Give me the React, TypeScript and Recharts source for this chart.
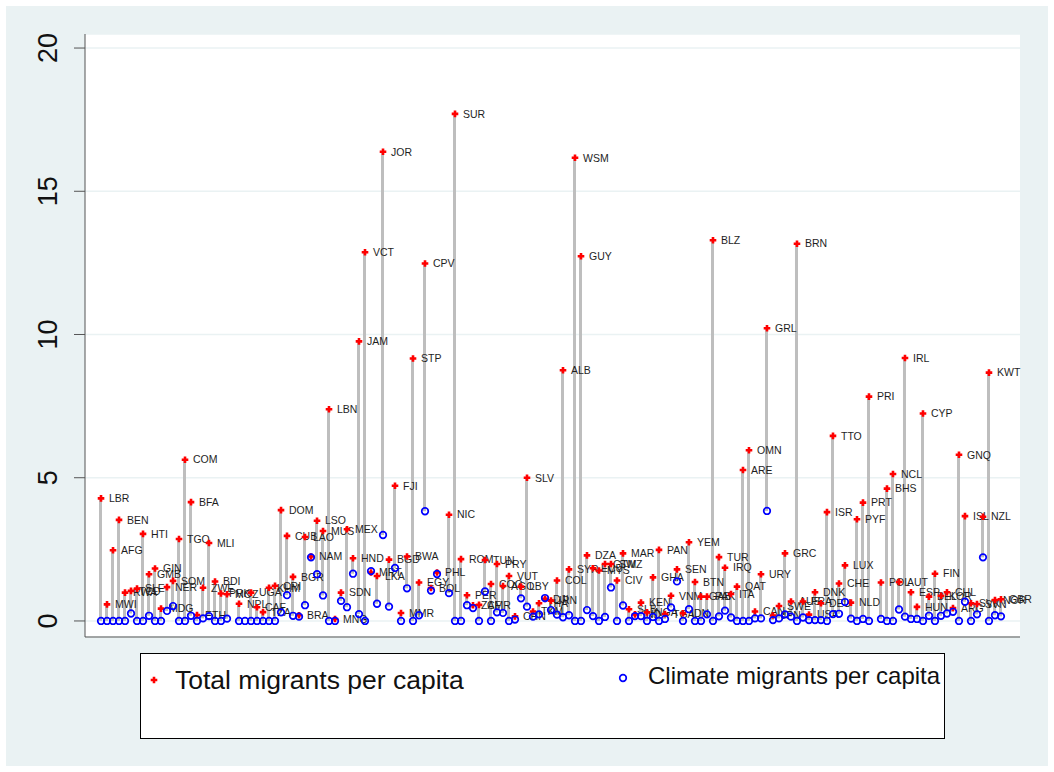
import { ComposedChart, Bar, Scatter, XAxis, YAxis, CartesianGrid } from "recharts";

// countries in rank order along the x axis (null = empty rank)
const countries: (string | null)[] = [
  "LBR", "MWI", "AFG", "BEN", "RWA", "TCD", "SLE", "HTI", "GMB", "GIN",
  "MDG", "NER", "SOM", "TGO", "COM", "BFA", "ETH", "ZWE", "MLI", "BDI",
  "PRK", "MOZ", null, "NPL", "", "UGA", "CAF", "TZA", "KHM", "CRI",
  "DOM", "CUB", "BGR", "BRA", "LAO", "NAM", "LSO", "MUS", "LBN", "MNG",
  "SDN", "MEX", "HND", "JAM", "VCT", "MRT", "LKA", "JOR", "BGD", "FJI",
  "MMR", "BWA", "STP", "EGY", "CPV", "BOL", "PHL", null, "NIC", "SUR",
  "ROM", "PER", "ZAF", "CMR", "TUN", "COG", "PRY", "AGO", "VUT", "CHN",
  "LBY", "SLV", "TKM", "THA", "DJI", "IRN", "COL", "ALB", "SYR", "WSM",
  "GUY", "DZA", "ECU", "MYS", "GTM", "SWZ", "CIV", "MAR", "SLB", "IND",
  "KEN", "NGA", "GHA", "PAN", "TGA", "VNM", "SEN", "IDN", "YEM", "BTN",
  "GAB", "PAK", "BLZ", "TUR", "IRQ", "ITA", "QAT", "ARE", "OMN", "CAN",
  "URY", "GRL", "JPN", "SWE", "GRC", "AUS", "BRN", "FRA", "USA", "DNK",
  "DEU", "ISR", "TTO", "CHE", "LUX", "NLD", "PYF", "PRT", "PRI", null,
  "POL", "BHS", "NCL", "AUT", "IRL", "ESP", "HUN", "CYP", "BEL", "FIN",
  "KOR", "CHL", "ARG", "GNQ", "ISL", "SVK", "SVN", "NZL", "KWT", "NOR",
  "GBR",
];

const totalPerCapita: (number | null)[] = [
  4.28, 0.58, 2.47, 3.53, 0.99, 1.05, 1.13, 3.04, 1.63, 1.83,
  0.43, 1.18, 1.4, 2.86, 5.63, 4.15, 0.21, 1.16, 2.72, 1.38,
  0.96, 0.93, null, 0.6, null, 0.99, 0.48, 0.31, 1.16, 1.23,
  3.87, 2.97, 1.54, 0.2, 2.93, 2.25, 3.5, 3.14, 7.39, 0.07,
  0.99, 3.2, 2.19, 9.76, 12.87, 1.69, 1.57, 16.38, 2.14, 4.72,
  0.28, 2.25, 9.16, 1.34, 12.48, 1.15, 1.69, null, 3.71, 17.7,
  2.16, 0.9, 0.55, 0.56, 2.13, 1.29, 1.99, 1.22, 1.57, 0.16,
  1.2, 5.0, 0.33, 0.62, 0.77, 0.71, 1.41, 8.75, 1.8, 16.17,
  12.73, 2.29, 1.84, 1.76, 1.99, 1.99, 1.41, 2.36, 0.41, 0.23,
  0.64, 0.3, 1.52, 2.48, 0.24, 0.88, 1.8, 0.27, 2.75, 1.36,
  0.85, 0.85, 13.29, 2.23, 1.86, 0.94, 1.2, 5.27, 5.96, 0.33,
  1.63, 10.22, 0.19, 0.52, 2.36, 0.68, 13.17, 0.68, 0.22, 1.0,
  0.62, 3.8, 6.46, 1.31, 1.94, 0.64, 3.55, 4.13, 7.83, null,
  1.34, 4.62, 5.13, 1.36, 9.18, 1.0, 0.49, 7.24, 0.85, 1.65,
  0.88, 1.0, 0.45, 5.8, 3.66, 0.62, 0.59, 3.64, 8.67, 0.73,
  0.76,
];

const climatePerCapita: (number | null)[] = [
  0, 0, 0, 0, 0, 0.26, 0, 0, 0.18, 0,
  0, 0.35, 0.52, 0, 0, 0.18, 0, 0.09, 0.17, 0,
  0, 0.08, null, 0, 0, 0, 0, 0, 0, 0,
  0.3, 0.9, 0.18, 0.15, 0.55, 2.22, 1.63, 0.89, 0, 0,
  0.7, 0.48, 1.65, 0.24, 0, 1.74, 0.6, 3.0, 0.5, 1.85,
  0, 1.14, 0, 0.2, 3.83, 1.06, 1.64, null, 0.97, 0,
  0, 0.55, 0.45, 0, 1.03, 0, 0.3, 0.28, 0, 0.05,
  0.79, 0.5, 0.15, 0.23, 0.8, 0.38, 0.22, 0.13, 0.2, 0,
  0, 0.38, 0.17, 0, 0.14, 1.17, 0, 0.54, 0, 0.17,
  0.17, 0, 0.14, 0, 0.07, 0.47, 1.38, 0, 0.41, 0,
  0, 0.23, 0, 0.16, 0.36, 0.12, 0, 0, 0, 0.09,
  0.09, 3.84, 0.03, 0.09, 0.23, 0.15, 0, 0.12, 0.03, 0.03,
  0.03, 0, 0.24, 0.25, 0.66, 0.08, 0, 0.07, 0, null,
  0.07, 0, 0, 0.4, 0.15, 0.07, 0.07, 0, 0.18, 0,
  0.18, 0.26, 0.32, 0, 0.67, 0, 0.23, 2.22, 0, 0.2,
  0.16,
];

const yTicks = [0, 5, 10, 15, 20];

const rows = countries
  .map((iso, rank) => {
    const total = totalPerCapita[rank];
    const climate = climatePerCapita[rank];
    return {
      rank,
      iso,
      total,
      climate,
      spike: total != null && climate != null ? [climate, total] : null,
    };
  })
  .filter((r) => r.iso !== null);

const font = "'Liberation Sans', Arial, sans-serif";

const TotalMark = (props: any) => {
  const { cx, cy, payload } = props;
  if (cx == null || cy == null || !isFinite(cy)) return null;
  return (
    <g>
      <path
        d={`M${cx - 3.3},${cy}H${cx + 3.3}M${cx},${cy - 3.3}V${cy + 3.3}`}
        stroke="#ff0000"
        strokeWidth={2.6}
      />
      <text x={cx + 8} y={cy} dy="0.36em" fontSize={10.5} fontFamily={font} fill="#1e1e1e">
        {payload.iso}
      </text>
    </g>
  );
};

const ClimateMark = (props: any) => {
  const { cx, cy } = props;
  if (cx == null || cy == null || !isFinite(cy)) return null;
  return <circle cx={cx} cy={cy} r={3.3} fill="none" stroke="#0000ff" strokeWidth={1.7} />;
};

const YTick = (props: any) => {
  const { y, payload } = props;
  return (
    <text
      x={47}
      y={y}
      transform={`rotate(-90, 47, ${y})`}
      textAnchor="middle"
      dy="0.36em"
      fontSize={27}
      fontFamily={font}
      fill="#111"
    >
      {payload.value}
    </text>
  );
};

const App = () => {
  return (
    <div style={{ position: "fixed", left: 0, top: 0, width: 1054, height: 772, background: "#fff", fontFamily: font }}>
      <div style={{ position: "absolute", left: 6, top: 6, width: 1042, height: 760, background: "#eaf2f3" }} />
      <div style={{ position: "absolute", left: 0, top: 0 }}>
        <ComposedChart width={1054} height={772} data={rows} margin={{ top: 34, right: 34, bottom: 134, left: 0 }}>
          <CartesianGrid vertical={false} fill="#ffffff" stroke="#eaf2f3" strokeWidth={1.6} />
          <XAxis
            type="number"
            dataKey="rank"
            domain={[-2.67, 153.17]}
            tick={false}
            tickLine={false}
            axisLine={{ stroke: "#555" }}
            height={1}
          />
          <YAxis
            type="number"
            domain={[-0.56, 20.49]}
            ticks={yTicks}
            width={85}
            tickSize={11}
            tickLine={{ stroke: "#555" }}
            axisLine={{ stroke: "#555" }}
            tick={<YTick />}
          />
          <Bar dataKey="spike" barSize={3} fill="#bebebe" isAnimationActive={false} />
          <Scatter
            data={rows.filter((r) => r.total != null)}
            dataKey="total"
            shape={<TotalMark />}
            isAnimationActive={false}
          />
          <Scatter
            data={rows.filter((r) => r.climate != null)}
            dataKey="climate"
            shape={<ClimateMark />}
            isAnimationActive={false}
          />
        </ComposedChart>
      </div>
      <div
        style={{
          position: "absolute",
          left: 140,
          top: 653,
          width: 805,
          height: 86,
          background: "#fff",
          border: "1px solid #000",
          boxSizing: "border-box",
        }}
      >
        <svg style={{ position: "absolute", left: 8, top: 21 }} width={10} height={10}>
          <path d="M1.7,5H8.3M5,1.7V8.3" stroke="#ff0000" strokeWidth={2.6} />
        </svg>
        <span style={{ position: "absolute", left: 34, top: 13, fontSize: 26.5, lineHeight: "26px", color: "#111", whiteSpace: "nowrap" }}>
          Total migrants per capita
        </span>
        <svg style={{ position: "absolute", left: 477, top: 19 }} width={10} height={10}>
          <circle cx={5} cy={5} r={3.3} fill="none" stroke="#0000ff" strokeWidth={1.7} />
        </svg>
        <span style={{ position: "absolute", left: 507, top: 10, fontSize: 24, lineHeight: "24px", color: "#111", whiteSpace: "nowrap" }}>
          Climate migrants per capita
        </span>
      </div>
    </div>
  );
};

export default App;
